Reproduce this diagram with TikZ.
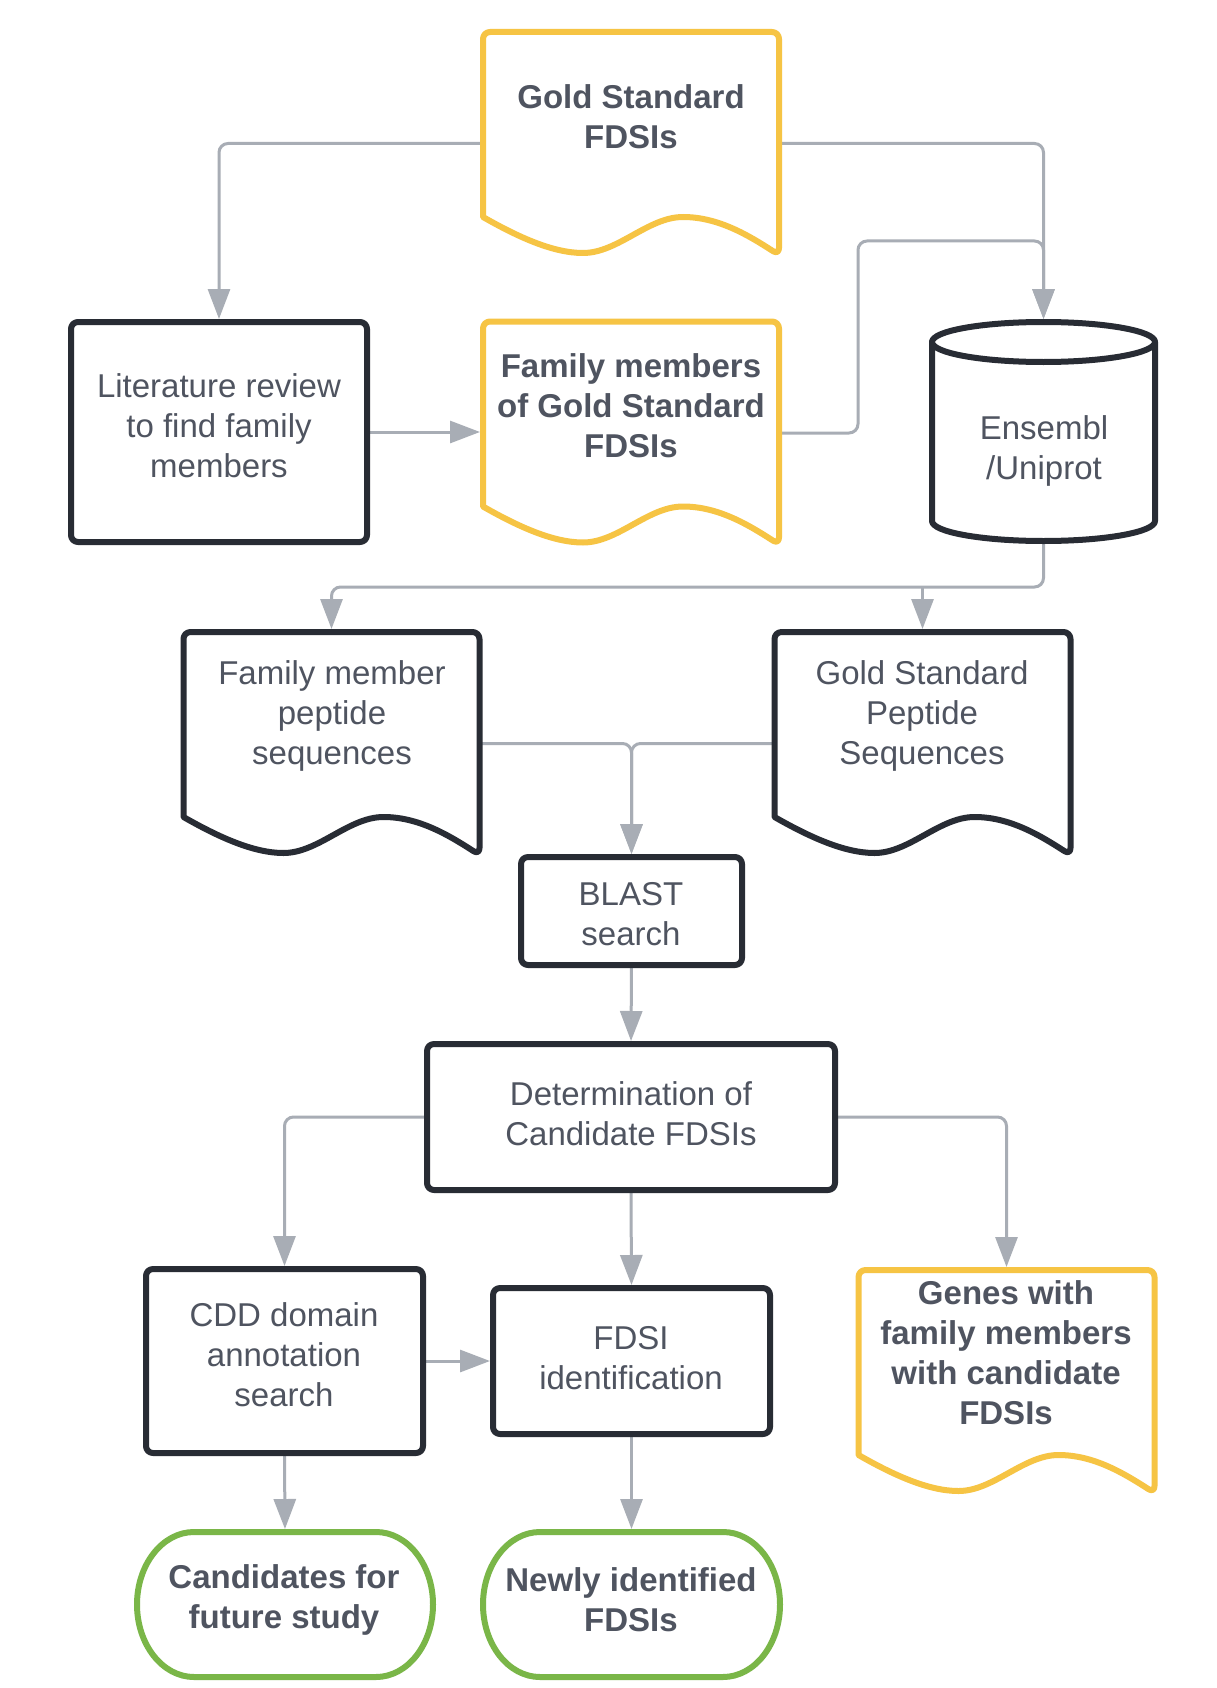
\documentclass[tikz,border=0pt]{standalone}
\usepackage{fontspec}
\setmainfont{Liberation Sans}
\usetikzlibrary{arrows.meta,calc}
\definecolor{goldc}{RGB}{246,196,68}
\definecolor{darkc}{RGB}{40,44,52}
\definecolor{connc}{RGB}{168,173,181}
\definecolor{greenc}{RGB}{122,182,72}
\definecolor{textc}{RGB}{79,84,96}
\newcommand{\mydoc}[2]{%
  \draw[#2] ($(#1.south west)+(0,-38)$) [rounded corners=7pt] -- (#1.north west) -- (#1.north east) -- (#1.south east) [sharp corners]
    .. controls ($(#1.south west)+(265,-20)$) and ($(#1.south west)+(235,-38)$) .. ($(#1.south west)+(200,-38)$)
    .. controls ($(#1.south west)+(165,-38)$) and ($(#1.south west)+(135,-2)$) .. ($(#1.south west)+(100,-2)$)
    .. controls ($(#1.south west)+(70,-2)$) and ($(#1.south west)+(35,-18)$) .. ($(#1.south west)+(0,-38)$) -- cycle;}
\newcommand{\myterm}[1]{%
  \draw[greenline] ($(#1.north west)+(57,0)$) -- ($(#1.north east)+(-57,0)$)
    arc[start angle=90,end angle=-90,x radius=57pt,y radius=72.5pt]
    -- ($(#1.south west)+(57,0)$)
    arc[start angle=270,end angle=90,x radius=57pt,y radius=72.5pt] -- cycle;}
\begin{document}
\begin{tikzpicture}[x=1pt,y=-1pt,
  frame/.style={inner sep=0pt, outer sep=0pt, draw=none},
  docf/.style={frame, minimum width=296pt, minimum height=223pt},
  txt/.style={align=center, text=textc, font=\fontsize{33}{40}\selectfont, inner sep=0pt},
  btxt/.style={txt, font=\fontsize{33}{40}\selectfont\bfseries},
  blackline/.style={draw=darkc, line width=6pt, rounded corners=7pt, line join=round},
  goldline/.style={draw=goldc, line width=6pt, line join=round},
  greenline/.style={draw=greenc, line width=6pt},
  conn/.style={draw=connc, line width=3pt, rounded corners=9pt, -{Triangle[width=22pt,length=30pt]}, shorten >=3pt},
]
\useasboundingbox[fill=white] (0,0) rectangle (1217,1688);

% frames
\node[docf] (gold) at (631,143.5) {};
\node[frame, minimum width=296pt, minimum height=220pt] (lit) at (219,432) {};
\node[docf] (fam) at (631,433) {};
\node[frame, minimum width=223pt, minimum height=219pt] (ens) at (1043.5,431.5) {};
\node[docf] (fpep) at (331.5,743.5) {};
\node[docf] (gpep) at (922.5,743.5) {};
\node[frame, minimum width=221pt, minimum height=108pt] (blast) at (631.5,911) {};
\node[frame, minimum width=408pt, minimum height=146pt] (det) at (631,1117) {};
\node[frame, minimum width=277pt, minimum height=184pt] (cdd) at (284.5,1361) {};
\node[frame, minimum width=277pt, minimum height=146pt] (fdsi) at (631.5,1361) {};
\node[docf] (genes) at (1006.5,1381.5) {};
\node[frame, minimum width=296pt, minimum height=145pt] (cand) at (285,1604.5) {};
\node[frame, minimum width=297pt, minimum height=145pt] (newly) at (631.5,1604.5) {};

% connectors
\coordinate (j1) at (858,241);
\coordinate (bus) at (0,587);
\draw[conn] (gold.west) -| (lit.north);
\draw[conn] (gold.east) -| (ens.north);
\draw[conn] (fam.east) -| (j1) -| (ens.north);
\draw[conn] (lit.east) -- (lit.east -| fam.west);
\draw[conn] (ens.south) |- (bus -| fpep.north) -- (fpep.north);
\draw[conn] (bus -| gpep.north) -- (gpep.north);
\draw[conn] (fpep.east) -| (blast.north);
\draw[conn] (gpep.west) -| (blast.north);
\draw[conn] (blast.south) -- (det.north);
\draw[conn] (det.west) -| (cdd.north);
\draw[conn] (det.south) -- (fdsi.north);
\draw[conn] (det.east) -| (genes.north);
\draw[conn] (cdd.east) -- (cdd.east -| fdsi.west);
\draw[conn] (cdd.south) -- (cand.north);
\draw[conn] (fdsi.south) -- (newly.north);

% shapes
\mydoc{gold}{goldline, fill=white}
\mydoc{fam}{goldline, fill=white}
\mydoc{genes}{goldline, fill=white}
\mydoc{fpep}{blackline, rounded corners=0pt, fill=white}
\mydoc{gpep}{blackline, rounded corners=0pt, fill=white}
\draw[blackline, fill=white] (lit.north west) rectangle (lit.south east);
\draw[blackline, fill=white] (blast.north west) rectangle (blast.south east);
\draw[blackline, fill=white] (det.north west) rectangle (det.south east);
\draw[blackline, fill=white] (cdd.north west) rectangle (cdd.south east);
\draw[blackline, fill=white] (fdsi.north west) rectangle (fdsi.south east);
\draw[blackline, fill=white, rounded corners=0pt] ($(ens.north west)+(0,20)$) -- ($(ens.south west)+(0,-20)$)
  arc[start angle=180,end angle=360,x radius=111.5pt,y radius=20pt] -- ($(ens.north east)+(0,20)$) -- cycle;
\draw[blackline, fill=white] ($(ens.north)+(0,20)$) ellipse[x radius=111.5pt, y radius=20pt];
\myterm{cand}
\myterm{newly}

% texts
\node[btxt] (goldT) at (631,116.5) {Gold Standard\\FDSIs};
\node[txt] (litT) at (219,426) {Literature review\\to find family\\members};
\node[btxt] (famT) at (631,406) {Family members\\of Gold Standard\\FDSIs};
\node[txt] (ensT) at (1044,450.5) {Ensembl\\/Uniprot};
\node[txt] (fpepT) at (332,716) {Family member\\peptide\\sequences};
\node[txt] (gpepT) at (922,716) {Gold Standard\\Peptide\\Sequences};
\node[txt] (blastT) at (631,914) {BLAST\\search};
\node[txt] (detT) at (631,1114) {Determination of\\Candidate FDSIs};
\node[txt] (cddT) at (284,1355) {CDD domain\\annotation\\search};
\node[txt] (fdsiT) at (631,1358.5) {FDSI\\identification};
\node[btxt] (genesT) at (1006,1353) {Genes with\\family members\\with candidate\\FDSIs};
\node[btxt] (candT) at (284,1600) {Candidates for\\future study};
\node[btxt] (newlyT) at (631,1600) {Newly identified\\FDSIs};
\end{tikzpicture}
\end{document}
